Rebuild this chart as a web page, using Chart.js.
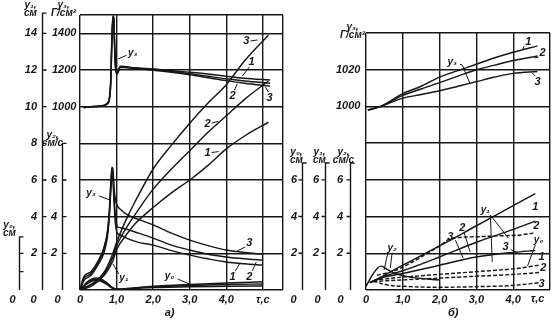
<!DOCTYPE html>
<html>
<head>
<meta charset="utf-8">
<script src="https://cdn.jsdelivr.net/npm/chart.js@4/dist/chart.umd.min.js"></script>
<style>
body { margin: 0; background: #fff; }
#wrap { position: relative; width: 559px; height: 325px; background: #fff; overflow: hidden; }
#wrap canvas { position: absolute; top: 0; }
</style>
</head>
<body>
<div id="wrap">
  <canvas id="chartA" width="290" height="325" style="left:0"></canvas>
  <canvas id="chartB" width="273" height="325" style="left:286px"></canvas>
</div>
<script>
// ---- panel a) : time axis, s
const tPressA = [0.1, 0.3, 0.5, 0.65, 0.75, 0.8, 0.84, 0.87, 0.9, 0.92, 0.95, 0.98, 1.02, 1.1, 1.5, 2.0, 2.5, 3.0, 3.5, 4.0, 4.5, 5.2];
const pressA1 = [995, 1000, 1002, 1008, 1020, 1045, 1150, 1380, 1495, 1490, 1330, 1200, 1185, 1220, 1212, 1205, 1196, 1188, 1178, 1166, 1155, 1145];
const pressA2 = [995, 1000, 1002, 1006, 1018, 1040, 1130, 1350, 1490, 1485, 1310, 1195, 1182, 1218, 1210, 1202, 1192, 1180, 1166, 1152, 1140, 1128];
const pressA3 = [995, 1000, 1001, 1005, 1015, 1035, 1120, 1330, 1485, 1480, 1300, 1190, 1180, 1215, 1208, 1199, 1188, 1174, 1158, 1142, 1128, 1112];

const tVelA = [0, 0.1, 0.3, 0.5, 0.65, 0.75, 0.8, 0.84, 0.87, 0.9, 0.93, 0.97, 1.02, 1.1, 1.3, 1.6, 2.0, 2.5, 3.0, 3.5, 4.0, 4.5, 5.0];
const velA3 = [0, 0.7, 1.0, 1.6, 2.3, 3.2, 4.3, 5.8, 6.7, 6.6, 5.6, 4.9, 4.6, 4.4, 4.1, 3.85, 3.55, 3.1, 2.72, 2.42, 2.18, 2.05, 1.95];
const velA2 = [0, 0.6, 0.9, 1.5, 2.2, 3.1, 4.1, 5.6, 6.5, 6.3, 5.2, 4.0, 3.45, 3.4, 3.3, 3.1, 2.83, 2.45, 2.18, 1.95, 1.8, 1.7, 1.63];
const velA1 = [0, 0.5, 0.8, 1.4, 2.0, 2.9, 3.9, 5.3, 6.2, 6.0, 4.8, 3.6, 3.1, 3.0, 2.8, 2.6, 2.45, 2.15, 1.9, 1.7, 1.53, 1.43, 1.36];

const tDispA = [0, 0.3, 0.5, 0.7, 0.9, 1.0, 1.3, 1.5, 2.0, 2.5, 3.0, 3.5, 4.0, 4.5, 5.15];
const dispA3 = [0, 0.3, 0.6, 1.1, 2.0, 2.6, 4.0, 4.8, 6.6, 7.9, 9.1, 10.2, 11.2, 12.5, 13.9];
const dispA2 = [0, 0.3, 0.5, 1.0, 1.8, 2.4, 3.5, 4.1, 5.5, 6.6, 7.6, 8.6, 9.5, 10.4, 11.4];
const dispA1 = [0, 0.2, 0.5, 0.9, 1.6, 2.2, 3.1, 3.6, 4.5, 5.3, 6.0, 6.8, 7.7, 8.4, 9.15];

const tGapA = [0, 0.2, 0.45, 0.7, 0.9, 1.1, 1.5, 2.0, 3.0, 4.0, 5.0];
const gapA1 = [0, 0.45, 0.65, 0.45, 0.12, 0.05, 0.12, 0.2, 0.3, 0.38, 0.45];
const gapA2 = [0, 0.4, 0.6, 0.4, 0.1, 0.04, 0.1, 0.17, 0.25, 0.3, 0.33];
const gapA3 = [0, 0.35, 0.55, 0.35, 0.08, 0.03, 0.08, 0.13, 0.18, 0.2, 0.22];

// ---- panel б)
const tPressB = [0.05, 0.4, 1.0, 1.5, 2.0, 2.5, 3.0, 3.5, 4.0, 4.66];
const pressB1 = [998, 1000, 1007, 1011, 1016, 1019.5, 1023, 1026.5, 1029.5, 1033];
const pressB2 = [998, 1000, 1006, 1009.5, 1013, 1016.5, 1020, 1022.5, 1025, 1027.5];
const pressB3 = [998, 1000, 1004.5, 1006.5, 1008.5, 1011, 1013.5, 1016, 1018, 1019];

const tDispB = [0.1, 0.5, 1.0, 2.0, 3.0, 4.0, 4.6];
const dispB1 = [0.4, 0.8, 1.35, 2.4, 3.5, 4.6, 5.25];
const dispB2 = [0.4, 0.75, 1.05, 1.8, 2.6, 3.3, 3.75];
const dispB3 = [0.4, 0.7, 0.9, 1.35, 1.8, 2.05, 2.15];

const tVelB = [0.3, 0.7, 1.0, 1.5, 2.0, 2.3, 3.0, 3.6, 4.2, 4.55];
const velB3 = [0.8, 1.0, 1.25, 1.8, 2.4, 2.8, 2.9, 2.95, 3.0, 3.1];
const tVelB0 = [0, 0.2, 0.4, 0.6, 0.8, 1.2, 2.0];
const velB0 = [0.2, 0.9, 1.3, 1.1, 0.9, 0.7, 0.55];

const tGapB = [0.2, 0.5, 1.0, 2.0, 3.0, 4.0, 4.7];
const gapB1 = [0.5, 0.6, 0.7, 0.85, 1.0, 1.15, 1.35];
const gapB2 = [0.45, 0.5, 0.55, 0.65, 0.75, 0.85, 0.95];
const gapB3 = [0.5, 0.3, 0.2, 0.15, 0.18, 0.25, 0.4];

// tick labels
const timeLabels = { 0: '0', 1: '1,0', 2: '2,0', 3: '3,0', 4: '4,0' };

const INK = '#161616';
const FONT = '"Liberation Sans", "DejaVu Sans", sans-serif';
Chart.defaults.font.family = FONT;
Chart.defaults.font.size = 11;
Chart.defaults.font.style = 'italic';
Chart.defaults.font.weight = 'bold';
Chart.defaults.color = INK;

function pts(times, vals) {
    return times.map((t, i) => ({ x: t, y: vals[i] }));
}

function line(times, vals, axis, dash) {
    return {
        data: pts(times, vals),
        yAxisID: axis,
        borderColor: INK,
        borderWidth: 1.45,
        borderDash: dash || [],
        pointRadius: 0,
        cubicInterpolationMode: 'monotone',
        fill: false
    };
}

function fixedTicks(values) {
    return axis => { axis.ticks = values.map(v => ({ value: v })); };
}

function yAxis(weight, w, min, max, tickVals, labelVals, pad, grid, mirror) {
    return {
        type: 'linear',
        position: 'left',
        weight: weight,
        min: min,
        max: max,
        afterFit: axis => { axis.width = w; },
        afterBuildTicks: fixedTicks(tickVals),
        ticks: {
            display: labelVals.length > 0,
            padding: pad,
            mirror: !!mirror,
            crossAlign: 'near',
            callback: v => labelVals.includes(v) ? String(v) : ''
        },
        grid: grid
            ? { color: INK, lineWidth: 1.4, drawTicks: false }
            : { display: false, drawTicks: false },
        border: { display: false }
    };
}

function xAxis(max, tickVals, lastLabel) {
    return {
        type: 'linear',
        position: 'bottom',
        min: 0,
        max: max,
        afterFit: axis => { axis.height = 35; },
        afterBuildTicks: fixedTicks(tickVals),
        ticks: {
            padding: 3,
            maxRotation: 0,
            autoSkip: false,
            callback: v => timeLabels[v] !== undefined ? timeLabels[v] : (v === 5 ? lastLabel : '')
        },
        grid: { color: INK, lineWidth: 1.4, drawTicks: false },
        border: { display: false }
    };
}

// draws the bracket axes, their titles, the zeros and the curve numbers
const inkPlugin = {
    id: 'ink',
    afterDraw(chart, args, opts) {
        const ctx = chart.ctx;
        const sx = chart.scales.x;
        const sy = chart.scales.yD;
        ctx.save();
        ctx.strokeStyle = INK;
        ctx.fillStyle = INK;
        ctx.lineWidth = 1.4;

        opts.axes.forEach(a => {
            const sc = chart.scales[a.id];
            const x = Math.round(sc.right) + 0.5;
            const top = a.top === null ? chart.chartArea.top : sc.getPixelForValue(a.top);
            if (a.top !== null) {
                const bottom = sc.getPixelForValue(sc.min);
                ctx.beginPath();
                ctx.moveTo(x, bottom);
                ctx.lineTo(x, top);
                ctx.lineTo(x + 4, top);
                a.ticks.forEach(v => {
                    const y = sc.getPixelForValue(v);
                    ctx.moveTo(x, y);
                    ctx.lineTo(x + 4 * opts.tickDir, y);
                });
                ctx.stroke();
                ctx.font = 'italic bold 11px ' + FONT;
                ctx.textAlign = 'center';
                ctx.textBaseline = 'middle';
                ctx.fillText('0', x + a.zeroDx, chart.chartArea.bottom + 10);
            }
            ctx.font = 'italic bold 10px ' + FONT;
            ctx.textAlign = 'center';
            ctx.textBaseline = 'alphabetic';
            const n = a.title.length;
            a.title.forEach((t, i) => {
                ctx.fillText(t, x + a.titleDx, top + a.titleDy - (n - 1 - i) * 8);
            });
        });

        ctx.textAlign = 'center';
        ctx.textBaseline = 'middle';
        ctx.lineWidth = 1;
        opts.notes.forEach(nt => {
            ctx.font = 'italic bold ' + (nt.size || 11) + 'px ' + FONT;
            ctx.fillText(nt.t, sx.getPixelForValue(nt.at[0]), sy.getPixelForValue(nt.at[1]));
            (nt.lead || []).forEach(s => {
                ctx.beginPath();
                ctx.moveTo(sx.getPixelForValue(s[0]), sy.getPixelForValue(s[1]));
                ctx.lineTo(sx.getPixelForValue(s[2]), sy.getPixelForValue(s[3]));
                ctx.stroke();
            });
        });
        ctx.restore();
    }
};

const notesA = [
    { t: 'y₃', size: 10, at: [1.44, 12.93], lead: [[1.27, 12.8, 1.04, 12.6]] },
    { t: '3', at: [4.55, 13.6], lead: [[4.66, 13.58, 4.85, 13.64]] },
    { t: '1', at: [4.69, 12.44], lead: [[4.63, 12.17, 4.44, 11.67]] },
    { t: '2', at: [4.17, 10.58], lead: [[4.22, 10.9, 4.3, 11.24]] },
    { t: '3', at: [5.18, 10.47], lead: [[5.15, 10.8, 5.07, 11.07]] },
    { t: '2', at: [3.49, 9.05], lead: [[3.6, 9.1, 3.78, 9.2]] },
    { t: '1', at: [3.49, 7.47], lead: [[3.6, 7.5, 3.79, 7.55]] },
    { t: '3', at: [4.63, 2.56], lead: [[4.52, 2.35, 4.3, 2.13]] },
    { t: '1', at: [4.17, 0.71], lead: [[4.25, 1.04, 4.36, 1.42]] },
    { t: '2', at: [4.63, 0.71], lead: [[4.71, 1.04, 4.82, 1.53]] },
    { t: 'y₃', size: 10, at: [0.3, 5.29], lead: [[0.52, 5.13, 0.82, 4.91]] },
    { t: 'y₁', size: 10, at: [1.2, 0.65], lead: [[1.06, 0.87, 0.9, 1.42]] },
    { t: 'y₀', size: 10, at: [2.45, 0.76], lead: [[2.67, 0.6, 2.99, 0.33]] },
    { t: 'а)', at: [2.45, -1.25] }
];

const notesB = [
    { t: '1', at: [4.41, 13.51], lead: [[4.3, 13.29, 4.25, 13.07]] },
    { t: '2', at: [4.8, 12.9], lead: [[4.69, 12.69, 4.58, 12.64]] },
    { t: '3', at: [4.66, 11.33], lead: [[4.6, 11.66, 4.52, 11.82]] },
    { t: 'y₃', size: 10, at: [2.34, 12.42], lead: [[2.55, 12.3, 2.62, 12.25], [2.62, 12.25, 2.83, 11.22]] },
    { t: 'y₁', size: 10, at: [3.24, 4.36], lead: [[3.38, 4.08, 3.43, 1.53], [3.38, 4.08, 3.87, 2.83]] },
    { t: '1', at: [4.6, 4.52] },
    { t: '2', at: [4.63, 3.49] },
    { t: '3', at: [3.79, 2.34], lead: [[3.93, 2.2, 4.12, 2.03]] },
    { t: 'y₀', size: 10, at: [4.69, 2.72], lead: [[4.6, 2.45, 4.39, 1.31]] },
    { t: '1', at: [4.77, 1.8] },
    { t: '2', at: [4.82, 1.2] },
    { t: '3', at: [4.77, 0.33] },
    { t: '2', at: [2.62, 3.38], lead: [[2.67, 3.1, 2.83, 2.07]] },
    { t: '3', at: [2.29, 2.89], lead: [[2.43, 2.72, 2.64, 1.74]] },
    { t: 'y₂', size: 10, at: [0.71, 2.29], lead: [[0.6, 2.07, 0.49, 1.09], [0.71, 2.03, 0.66, 1.2]] },
    { t: 'τ,с', at: [4.66, -0.5] },
    { t: 'б)', at: [2.37, -1.25] }
];

new Chart(document.getElementById('chartA'), {
    type: 'line',
    data: {
        datasets: [
            line(tPressA, pressA1, 'yP'),
            line(tPressA, pressA2, 'yP'),
            line(tPressA, pressA3, 'yP'),
            line(tVelA, velA1, 'yV'),
            line(tVelA, velA2, 'yV'),
            line(tVelA, velA3, 'yV'),
            line(tDispA, dispA1, 'yD'),
            line(tDispA, dispA2, 'yD'),
            line(tDispA, dispA3, 'yD'),
            line(tGapA, gapA1, 'yS'),
            line(tGapA, gapA2, 'yS'),
            line(tGapA, gapA3, 'yS')
        ]
    },
    options: {
        responsive: false,
        animation: false,
        layout: { padding: { top: 15, right: 7, left: 0, bottom: 0 } },
        scales: {
            x: xAxis(5.55, [0, 1, 2, 3, 4, 5, 5.55], 'τ,с'),
            yS: yAxis(3, 19, 0, 15, [0, 15], [], 0, false),
            yD: yAxis(2, 23, 0, 15, [0, 2, 4, 6, 8, 10, 12, 14, 15], [2, 4, 6, 8, 10, 12, 14], 5, true),
            yV: yAxis(1, 20, 0, 15, [0, 2, 4, 6], [2, 4, 6], 5, false),
            yP: yAxis(0, 18, 0, 1500, [1000, 1200, 1400], [1000, 1200, 1400], -28, false, true)
        },
        plugins: {
            legend: { display: false },
            tooltip: { enabled: false },
            ink: {
                tickDir: 1,
                axes: [
                    { id: 'yS', top: 2.9, ticks: [1, 2], title: ['y₀,', 'см'], titleDx: -10, titleDy: -1, zeroDx: -7 },
                    { id: 'yD', top: 15.1, ticks: [2, 4, 6, 8, 10, 12, 14], title: ['y₁,', 'см'], titleDx: -12, titleDy: 3, zeroDx: -9 },
                    { id: 'yV', top: 8, ticks: [2, 4, 6], title: ['y₂,', 'см/с'], titleDx: -10, titleDy: 3, zeroDx: -5 },
                    { id: 'yP', top: null, ticks: [], title: ['y₃,', 'Г/см²'], titleDx: -17, titleDy: 1 }
                ],
                notes: notesA
            }
        }
    },
    plugins: [inkPlugin]
});

new Chart(document.getElementById('chartB'), {
    type: 'line',
    data: {
        datasets: [
            line(tPressB, pressB1, 'yP'),
            line(tPressB, pressB2, 'yP'),
            line(tPressB, pressB3, 'yP'),
            line(tDispB, dispB1, 'yD'),
            line(tDispB, dispB2, 'yD'),
            line(tDispB, dispB3, 'yD'),
            line(tVelB, velB3, 'yV', [4, 2]),
            line(tVelB0, velB0, 'yV'),
            line(tGapB, gapB1, 'yS', [4, 2]),
            line(tGapB, gapB2, 'yS', [4, 2]),
            line(tGapB, gapB3, 'yS', [4, 2])
        ]
    },
    options: {
        responsive: false,
        animation: false,
        layout: { padding: { top: 33, right: 9, left: 0, bottom: 0 } },
        scales: {
            x: xAxis(5, [0, 1, 2, 3, 4, 5], ''),
            yS: yAxis(3, 16, 0, 14, [2, 4, 6], [2, 4, 6], 5, false),
            yD: yAxis(2, 23, 0, 14, [0, 2, 4, 6, 8, 10, 12, 14], [2, 4, 6], 6, true),
            yV: yAxis(1, 25, 0, 14, [2, 4, 6], [2, 4, 6], 7, false),
            yP: yAxis(0, 16, 900, 1040, [1000, 1020], [1000, 1020], -30, false, true)
        },
        plugins: {
            legend: { display: false },
            tooltip: { enabled: false },
            ink: {
                tickDir: -1,
                axes: [
                    { id: 'yS', top: 6.92, ticks: [2, 4, 6], title: ['y₀,', 'см'], titleDx: -6, titleDy: 0, zeroDx: -9 },
                    { id: 'yD', top: 6.92, ticks: [2, 4, 6], title: ['y₁,', 'см'], titleDx: -6, titleDy: 0, zeroDx: -8 },
                    { id: 'yV', top: 6.92, ticks: [2, 4, 6], title: ['y₂,', 'см/с'], titleDx: -7, titleDy: 0, zeroDx: -10 },
                    { id: 'yP', top: null, ticks: [], title: ['y₃,', 'Г/см²'], titleDx: -14, titleDy: 5 }
                ],
                notes: notesB
            }
        }
    },
    plugins: [inkPlugin]
});
</script>
</body>
</html>
